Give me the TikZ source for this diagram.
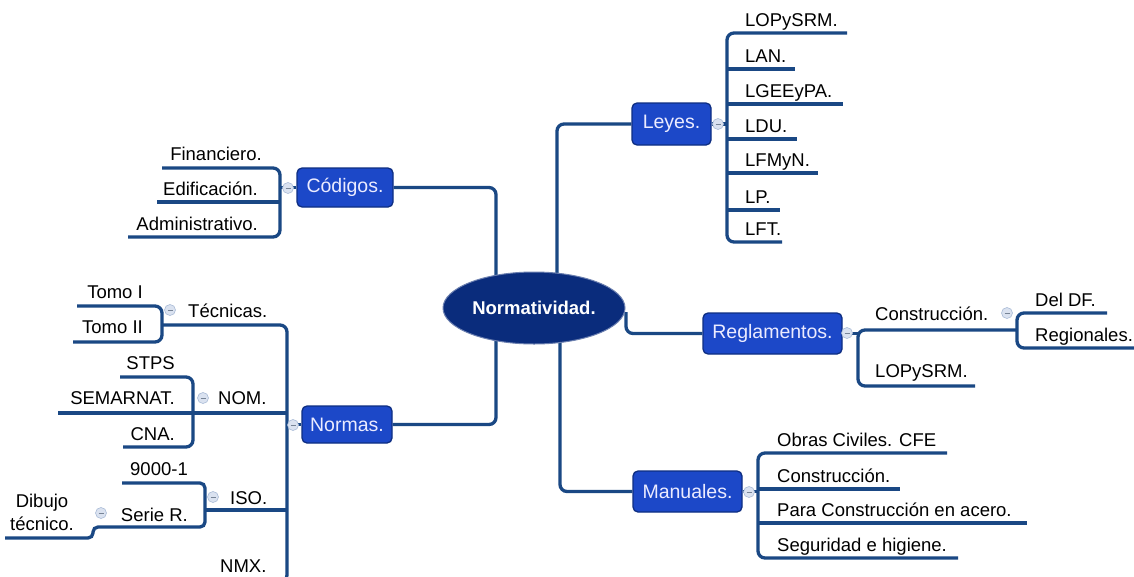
\documentclass[tikz,border=0pt]{standalone}
\usepackage{fontspec}
\setmainfont{Liberation Sans}
\usetikzlibrary{shapes.geometric,backgrounds,calc}
\definecolor{linec}{RGB}{26,72,132}
\definecolor{boxf}{RGB}{28,72,200}
\definecolor{boxd}{RGB}{14,46,130}
\definecolor{hubf}{RGB}{10,44,124}
\definecolor{togf}{RGB}{218,226,240}
\definecolor{togd}{RGB}{170,188,215}
\begin{document}
\begin{tikzpicture}[x=1pt,y=-1pt,
  conn/.style={draw=linec, line width=3.3pt, rounded corners=7pt},
  hub/.style={ellipse, minimum width=182pt, minimum height=72pt, fill=hubf,
    draw=hubf!60!white, line width=1pt, text=white, inner sep=0pt,
    font=\fontsize{18.5}{22}\selectfont\bfseries},
  topic/.style={rounded corners=5pt, fill=boxf, draw=boxd, line width=1.3pt,
    text=white!92!blue, inner sep=0pt, font=\fontsize{19.5}{23}\selectfont},
  leaf/.style={inner sep=0pt, text=black, font=\fontsize{18.5}{22.5}\selectfont},
  tog/.style={circle, minimum size=11pt, inner sep=0pt, fill=togf, draw=togd,
    line width=0.6pt,
    path picture={\draw[togd!70!black, line width=0.8pt]
      ($(path picture bounding box.center)+(-2.5pt,0)$) -- ++(5pt,0);}}
]
\clip (0,0) rectangle (1134,576);

% central topic and main branches
\node[hub] (norm) at (534,308) {Normatividad.};
\node[topic, minimum width=96pt, minimum height=39pt] (cod) at (345,187.5) {Códigos.};
\node[topic, minimum width=79pt, minimum height=42pt] (ley) at (671.5,124) {Leyes.};
\node[topic, minimum width=90pt, minimum height=37pt] (nor) at (347,424.5) {Normas.};
\node[topic, minimum width=139pt, minimum height=41pt] (reg) at (772.5,333.5) {Reglamentos.};
\node[topic, minimum width=109pt, minimum height=41pt] (man) at (687.5,491.5) {Manuales.};

\begin{pgfonlayer}{background}
  \fill[white] (0,0) rectangle (1134,576);
  \coordinate (hubA) at (496,308);
  \coordinate (hubB) at (557,308);
  \coordinate (hubC) at (560,308);
  \coordinate (hubD) at (626,312);
  \draw[conn] (cod.east) -| (hubA);
  \draw[conn] (nor.east) -| (hubA);
  \draw[conn] (ley.west) -| (hubB);
  \draw[conn] (man.west) -| (hubC);
  \draw[conn] (reg.west) -| (hubD);
\end{pgfonlayer}

% Leyes
\coordinate (leyJ) at (727,124);
\draw[conn] (ley.east) -- (leyJ);
\draw[conn] (847,33) -- (727,33) -- (727,242) -- (782,242);
\draw[conn] (727,69) -- (795,69);
\draw[conn] (727,104) -- (843,104);
\draw[conn] (727,139) -- (797,139);
\draw[conn] (727,173) -- (818,173);
\draw[conn] (727,210) -- (780,210);
\node[tog] (tley) at (718,124) {};
\node[leaf, anchor=base west] (l1) at (745,26) {LOPySRM.};
\node[leaf, anchor=base west] (l2) at (745,62) {LAN.};
\node[leaf, anchor=base west] (l3) at (745,97) {LGEEyPA.};
\node[leaf, anchor=base west] (l4) at (745,132) {LDU.};
\node[leaf, anchor=base west] (l5) at (745,166) {LFMyN.};
\node[leaf, anchor=base west] (l6) at (745,203) {LP.};
\node[leaf, anchor=base west] (l7) at (745,235) {LFT.};

% Códigos
\coordinate (codJ) at (280,187.5);
\draw[conn] (cod.west) -- (codJ);
\draw[conn] (162,168) -- (280,168) -- (280,237) -- (128,237);
\draw[conn] (157,202) -- (280,202);
\node[tog] (tcod) at (288,188) {};
\node[leaf, anchor=base east] (c1) at (262,160) {Financiero.};
\node[leaf, anchor=base east] (c2) at (258,195) {Edificación.};
\node[leaf, anchor=base east] (c3) at (258,230) {Administrativo.};

% Normas
\coordinate (norJ) at (287,424.5);
\draw[conn] (nor.west) -- (norJ);
\draw[conn] (162,325) -- (287,325) -- (287,582) -- (205,582);
\draw[conn] (58,413) -- (287,413);
\draw[conn] (205,510) -- (287,510);
\node[tog] (tnor) at (293,425) {};
% Técnicas
\draw[conn] (77,306) -- (162,306) -- (162,342) -- (73,342);
\node[tog] (ttec) at (170,310) {};
\node[leaf, anchor=base west] (tec) at (188,317) {Técnicas.};
\node[leaf, anchor=base east] (to1) at (143,298) {Tomo I};
\node[leaf, anchor=base east] (to2) at (143,333) {Tomo II};
% NOM
\draw[conn] (120,377) -- (193,377) -- (193,447) -- (123,447);
\node[tog] (tnom) at (203,398) {};
\node[leaf, anchor=base west] (nom) at (218,404) {NOM.};
\node[leaf, anchor=base east] (n1) at (175,369) {STPS};
\node[leaf, anchor=base east] (n2) at (175,404) {SEMARNAT.};
\node[leaf, anchor=base east] (n3) at (175,440) {CNA.};
% ISO
\draw[conn, rounded corners=5pt] (122,483) -- (205,483) -- (205,527) -- (93,527) -- (93,538) -- (5,538);
\node[tog] (tiso) at (213,497) {};
\node[leaf, anchor=base west] (iso) at (230,504) {ISO.};
\node[leaf, anchor=base east] (i1) at (188,475) {9000-1};
\node[tog] (tser) at (101,513) {};
\node[leaf, anchor=base east] (i2) at (188,521) {Serie R.};
\node[leaf, anchor=base, align=center] (dib) at (42,530) {Dibujo\\técnico.};
% NMX
\node[leaf, anchor=base west] (nmx) at (220,572) {NMX.};

% Reglamentos
\coordinate (regJ) at (858,333.5);
\draw[conn] (reg.east) -- (regJ);
\draw[conn] (1017,330) -- (858,330) -- (858,386) -- (975,386);
\draw[conn] (1107,313) -- (1017,313) -- (1017,348) -- (1140,348);
\node[tog] (treg) at (847,333) {};
\node[tog] (tcon) at (1007,313) {};
\node[leaf, anchor=base west] (r1) at (875,320) {Construcción.};
\node[leaf, anchor=base west] (r2) at (875,377) {LOPySRM.};
\node[leaf, anchor=base west] (r3) at (1035,306) {Del DF.};
\node[leaf, anchor=base west] (r4) at (1035,341) {Regionales.};

% Manuales
\coordinate (manJ) at (758,491.5);
\draw[conn] (man.east) -- (manJ);
\draw[conn] (947,453) -- (758,453) -- (758,558) -- (958,558);
\draw[conn] (758,489) -- (900,489);
\draw[conn] (758,523) -- (1027,523);
\node[tog] (tman) at (749,492) {};
\node[leaf, anchor=base west] (m1) at (777,446) {Obras Civiles. CFE};
\node[leaf, anchor=base west] (m2) at (777,482) {Construcción.};
\node[leaf, anchor=base west] (m3) at (777,516) {Para Construcción en acero.};
\node[leaf, anchor=base west] (m4) at (777,551) {Seguridad e higiene.};
\end{tikzpicture}
\end{document}
